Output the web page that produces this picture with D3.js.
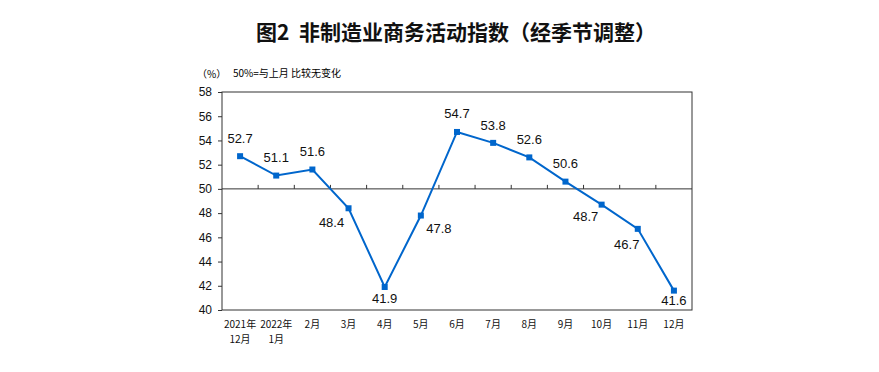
<!DOCTYPE html>
<html>
<head>
<meta charset="utf-8">
<script src="https://cdn.jsdelivr.net/npm/d3@7"></script>
<style>
  body { margin: 0; background: #fff; }
  svg { display: block; }
</style>
</head>
<body>
<div id="chart"></div>
<script>
// months shown on the x axis (second line where the label wraps)
const months = [
  ["2021年", "12月"], ["2022年", "1月"], ["2月"], ["3月"], ["4月"], ["5月"],
  ["6月"], ["7月"], ["8月"], ["9月"], ["10月"], ["11月"], ["12月"]
];
const pmi = [52.7, 51.1, 51.6, 48.4, 41.9, 47.8, 54.7, 53.8, 52.6, 50.6, 48.7, 46.7, 41.6];
const yTicks = [40, 42, 44, 46, 48, 50, 52, 54, 56, 58];

// where each value label sits relative to its point
const labelPos = [
  [0, -13], [0, -14], [0, -14], [-17, 19], [0, 16], [18, 17], [0, -14],
  [0, -13], [0, -13], [0, -14], [-16, 16], [-11, 20], [0, 14]
];

const width = 879, height = 372;
const margin = {top: 92, right: 187, bottom: 62, left: 222};
const blue = "#0066cc";
const cjk = "'Noto Sans CJK SC', 'Noto Sans', sans-serif";
const latin = "'Liberation Sans', Arial, sans-serif";

const svg = d3.select("#chart").append("svg")
  .attr("width", width)
  .attr("height", height);

const x = d3.scaleBand()
  .domain(d3.range(months.length))
  .range([margin.left, width - margin.right]);

const y = d3.scaleLinear()
  .domain([40, 58])
  .range([height - margin.bottom, margin.top]);

// title
svg.append("text")
  .attr("x", 456)
  .attr("y", 40)
  .attr("text-anchor", "middle")
  .style("font", `bold 21px ${cjk}`)
  .attr("fill", "#111")
  .text("图2\u00a0\u00a0非制造业商务活动指数（经季节调整）");

svg.append("text")
  .attr("x", 197)
  .attr("y", 78)
  .style("font", `10px ${cjk}`)
  .text("（%）");

svg.append("text")
  .attr("x", 233)
  .attr("y", 77)
  .style("font", `10px ${cjk}`)
  .text("50%=与上月 比较无变化");

// frame
svg.append("rect")
  .attr("x", margin.left)
  .attr("y", margin.top)
  .attr("width", width - margin.right - margin.left)
  .attr("height", height - margin.bottom - margin.top)
  .attr("fill", "none")
  .attr("stroke", "#333")
  .attr("stroke-width", 1);

// y axis
const yAxis = svg.append("g")
  .attr("transform", `translate(${margin.left},0)`)
  .call(d3.axisLeft(y).tickValues(yTicks).tickSize(4).tickPadding(6));
yAxis.select(".domain").remove();
yAxis.selectAll("line").attr("stroke", "#333");
yAxis.selectAll("text")
  .style("font", `12px ${latin}`)
  .attr("fill", "#111");

// 50% line with category ticks
const xAxis = svg.append("g")
  .attr("transform", `translate(0,${y(50)})`);
xAxis.append("line")
  .attr("x1", margin.left)
  .attr("x2", width - margin.right)
  .attr("stroke", "#333");
xAxis.selectAll("line.tick")
  .data(d3.range(1, months.length))
  .join("line")
  .attr("class", "tick")
  .attr("x1", d => x(d))
  .attr("x2", d => x(d))
  .attr("y1", 0)
  .attr("y2", -4)
  .attr("stroke", "#333");

// category labels
svg.append("g")
  .selectAll("text")
  .data(months)
  .join("text")
  .attr("text-anchor", "middle")
  .attr("x", (d, i) => x(i) + x.bandwidth() / 2)
  .attr("y", height - margin.bottom + 18)
  .style("font", `10px ${cjk}`)
  .attr("fill", "#111")
  .selectAll("tspan")
  .data(d => d)
  .join("tspan")
  .attr("x", function() { return this.parentNode.getAttribute("x"); })
  .attr("dy", (d, i) => i === 0 ? 0 : 15)
  .text(d => d);

// line + markers
const cx = i => x(i) + x.bandwidth() / 2;
const line = d3.line()
  .x((d, i) => cx(i))
  .y(d => y(d));

svg.append("path")
  .datum(pmi)
  .attr("d", line)
  .attr("fill", "none")
  .attr("stroke", blue)
  .attr("stroke-width", 2);

svg.append("g")
  .selectAll("rect")
  .data(pmi)
  .join("rect")
  .attr("x", (d, i) => cx(i) - 3)
  .attr("y", d => y(d) - 3)
  .attr("width", 6)
  .attr("height", 6)
  .attr("fill", blue);

// value labels
svg.append("g")
  .selectAll("text")
  .data(pmi)
  .join("text")
  .attr("text-anchor", "middle")
  .attr("x", (d, i) => cx(i) + labelPos[i][0])
  .attr("y", (d, i) => y(d) + labelPos[i][1])
  .style("font", `13px ${latin}`)
  .attr("fill", "#111")
  .text(d => d.toFixed(1));
</script>
</body>
</html>
